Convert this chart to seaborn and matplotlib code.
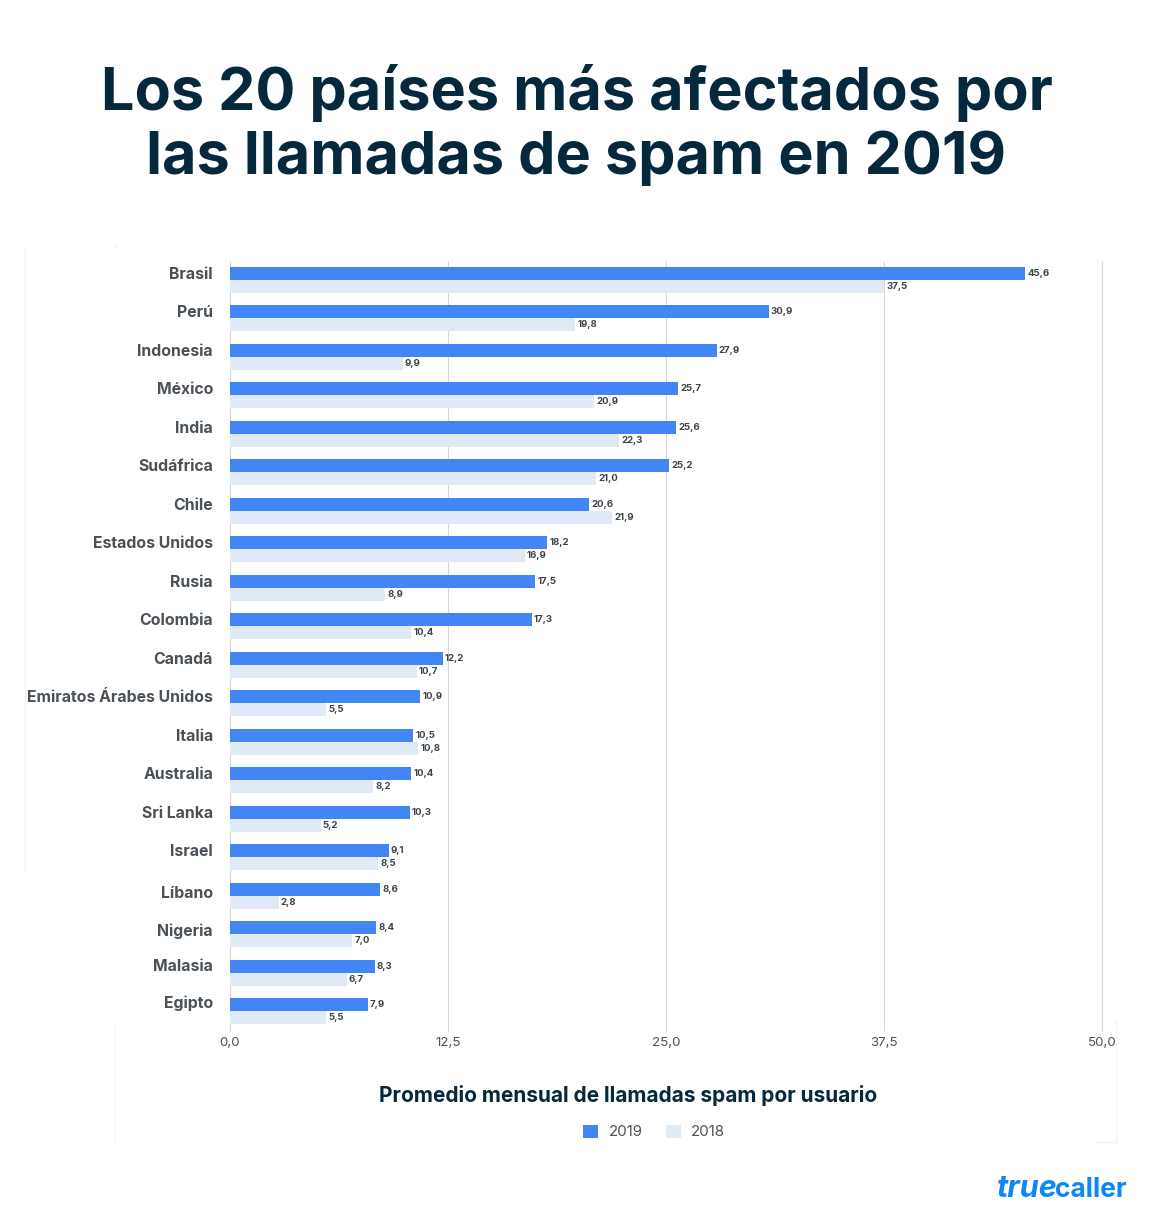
import matplotlib
matplotlib.use("Agg")
import matplotlib.pyplot as plt
from matplotlib.lines import Line2D
from matplotlib.patches import Patch
from matplotlib.transforms import ScaledTranslation
import pandas as pd
import seaborn as sns

countries = ["Brasil", "Perú", "Indonesia", "México", "India", "Sudáfrica", "Chile",
             "Estados Unidos", "Rusia", "Colombia", "Canadá", "Emiratos Árabes Unidos",
             "Italia", "Australia", "Sri Lanka", "Israel", "Líbano", "Nigeria", "Malasia", "Egipto"]
values_2019 = [45.6, 30.9, 27.9, 25.7, 25.6, 25.2, 20.6, 18.2, 17.5, 17.3,
               12.2, 10.9, 10.5, 10.4, 10.3, 9.1, 8.6, 8.4, 8.3, 7.9]
values_2018 = [37.5, 19.8, 9.9, 20.9, 22.3, 21.0, 21.9, 16.9, 8.9, 10.4,
               10.7, 5.5, 10.8, 8.2, 5.2, 8.5, 2.8, 7.0, 6.7, 5.5]
x_ticks = [0, 12.5, 25, 37.5, 50]
series_names = ["2019", "2018"]
series_colors = ["#4285F4", "#DFEAF6"]

W, H = 1152, 1226
FONT = "Inter"
DARK = "#06283D"
GREY = "#4A5157"

sns.set_theme(style="white")
plt.rcParams["font.family"] = [FONT, "DejaVu Sans"]

df = pd.DataFrame({
    "country": countries * 2,
    "value": values_2019 + values_2018,
    "year": ["2019"] * len(countries) + ["2018"] * len(countries),
})

fig = plt.figure(figsize=(W / 100, H / 100), dpi=100, facecolor="white")
ax = fig.add_axes([230 / W, 1 - 1030.7 / H, 872 / W, 770 / H])

sns.barplot(data=df, y="country", x="value", hue="year", hue_order=series_names,
            palette=series_colors, order=countries, orient="h", width=0.676, gap=0,
            saturation=1, errorbar=None, dodge=True, legend=False, ax=ax, zorder=3,
            linewidth=0, edgecolor="none")

ax.set_xlim(0, 50)
ax.set_ylim(len(countries) - 0.5, -0.5)
ax.set_xticks(x_ticks)
ax.set_xticklabels([f"{t:.1f}".replace(".", ",") for t in x_ticks], fontsize=9.6, color=GREY)
ax.tick_params(axis="x", length=0, pad=4.5)
ax.tick_params(axis="y", length=0, pad=12.2)
label_lift_px = [7] * 16 + [3.5, 5, 7.5, 9.5]
for lab, lift in zip(ax.get_yticklabels(), label_lift_px):
    lab.set_fontsize(11.4)
    lab.set_fontweight("bold")
    lab.set_color(GREY)
    lab.set_transform(lab.get_transform() + ScaledTranslation(0, lift / 100, fig.dpi_scale_trans))
ax.set_xlabel("")
ax.set_ylabel("")
ax.grid(axis="x", color="#D6D6D6", lw=0.75, zorder=0)
ax.set_axisbelow(True)
for g in ax.get_xgridlines():
    g.set_clip_on(False)
for s in ax.spines.values():
    s.set_visible(False)

for cont in ax.containers:
    ax.bar_label(cont, labels=[f"{v.get_width():.1f}".replace(".", ",") for v in cont],
                 padding=1.5, fontsize=6.9, fontweight="bold", color="#3C4348", zorder=5)

fig.text(577 / W, 1 - 93 / H, "Los 20 países más afectados por", ha="center", va="center",
         fontsize=42.7, fontweight="bold", color=DARK)
fig.text(576 / W, 1 - 158 / H, "las llamadas de spam en 2019", ha="center", va="center",
         fontsize=42.7, fontweight="bold", color=DARK)
fig.text(628 / W, 1 - 1095 / H, "Promedio mensual de llamadas spam por usuario", ha="center", va="center",
         fontsize=15, fontweight="bold", color=DARK)

handles = [Patch(facecolor=c, edgecolor="none", label=n) for c, n in zip(series_colors, series_names)]
fig.legend(handles=handles, loc="center", bbox_to_anchor=(654 / W, 1 - 1132 / H), ncol=2, frameon=False,
           fontsize=10.8, labelcolor=GREY, handlelength=1.0, handleheight=1.0,
           handletextpad=0.67, columnspacing=1.55, borderpad=0)

fig.text(1127 / W, 1 - 1190 / H, "caller", ha="right", va="center", fontsize=19,
         fontweight="bold", color="#0E86F8")
fig.text(1058 / W, 1 - 1189 / H, "true", ha="right", va="center", fontsize=22,
         fontweight="bold", style="italic", color="#0E86F8")

faint = "#F3F3F3"
for xs, ys in [((25, 25), (248, 870)), ((115, 115), (1022, 1143)), ((115, 115), (245, 248)),
               ((1116, 1116), (1020, 1143)), ((1095, 1116), (1142, 1142))]:
    fig.add_artist(Line2D([x / W for x in xs], [1 - y / H for y in ys], color=faint, lw=1))

fig.savefig("out.png", dpi=100)
